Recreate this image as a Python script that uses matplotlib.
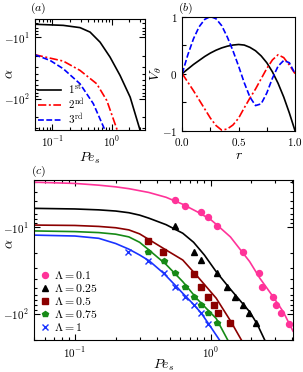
import numpy as np
import matplotlib
matplotlib.use("Agg")
import matplotlib.pyplot as plt
from matplotlib.ticker import LogLocator, FuncFormatter, NullFormatter, FixedLocator

plt.rcParams['mathtext.fontset'] = 'cm'
plt.rcParams['font.family'] = ['DejaVu Serif']

# ---------------- panel (a): growth rates of first three modes ----------------
pe_a1 = [0.05, 0.152, 0.292, 0.432, 0.638, 0.94, 1.39, 2.06, 3.04]
alpha_a1 = [-6.2, -6.46, -7.03, -8.3, -12.1, -21.1, -41.9, -94.2, -327]
pe_a2 = [0.05, 0.152, 0.292, 0.56, 0.83, 1.25]
alpha_a2 = [-19.3, -24.5, -34.7, -57.2, -107, -327]
pe_a3 = [0.05, 0.091, 0.152, 0.292, 0.49, 0.776]
alpha_a3 = [-19.3, -23.9, -32.6, -57.2, -120, -327]
labels_a = [r'$1^{\rm st}$', r'$2^{\rm nd}$', r'$3^{\rm rd}$']

# ---------------- panel (b): eigenfunctions V_theta(r) ----------------
r_b = [0.0, 0.05, 0.10, 0.15, 0.20, 0.25, 0.30, 0.35, 0.40, 0.45, 0.50,
       0.55, 0.60, 0.65, 0.70, 0.75, 0.80, 0.85, 0.90, 0.95, 1.0]
v_b1 = [0.0, 0.08, 0.16, 0.23, 0.30, 0.36, 0.41, 0.45, 0.48, 0.50, 0.51,
        0.50, 0.46, 0.40, 0.31, 0.19, 0.03, -0.17, -0.41, -0.69, -1.0]
v_b2 = [0.0, -0.15, -0.30, -0.46, -0.62, -0.78, -0.91, -0.99, -0.97, -0.90, -0.78,
        -0.60, -0.43, -0.27, -0.09, 0.09, 0.24, 0.33, 0.28, 0.15, 0.0]
v_b3 = [0.0, 0.33, 0.61, 0.82, 0.95, 1.00, 0.96, 0.84, 0.64, 0.40, 0.13,
        -0.16, -0.41, -0.56, -0.53, -0.34, -0.08, 0.13, 0.23, 0.19, 0.0]

# ---------------- panel (c): growth rate vs Pe_s for several Lambda ----------------
lambdas = ['0.1', '0.25', '0.5', '0.75', '1']

pe_c_line = {
    '0.1':  [0.05, 0.1, 0.15, 0.2, 0.25, 0.35, 0.47, 0.62, 0.8, 1.0, 1.1, 1.4, 1.94, 2.31, 2.89, 3.43, 4.05],
    '0.25': [0.05, 0.1, 0.15, 0.2, 0.25, 0.3, 0.35, 0.47, 0.624, 0.75, 0.9, 1.1, 1.4, 1.94, 2.2, 2.51],
    '0.5':  [0.05, 0.1, 0.15, 0.2, 0.25, 0.3, 0.353, 0.47, 0.624, 0.8, 1.1, 1.4, 1.69],
    '0.75': [0.05, 0.1, 0.15, 0.2, 0.25, 0.3, 0.353, 0.47, 0.624, 0.8, 1.1, 1.34],
    '1':    [0.05, 0.1, 0.15, 0.2, 0.25, 0.3, 0.353, 0.45, 0.55, 0.624, 0.75, 0.853, 0.96, 1.166],
}
alpha_c_line = {
    '0.1':  [-3.05, -3.15, -3.3, -3.45, -3.62, -4.0, -4.55, -5.45, -6.7, -8.2, -9.3, -13, -25, -39, -63.5, -94.6, -158],
    '0.25': [-6.1, -6.2, -6.35, -6.55, -6.85, -7.3, -7.9, -9.4, -11.8, -15, -21, -32.7, -52, -94.6, -130, -201],
    '0.5':  [-9.5, -9.6, -9.85, -10.2, -10.8, -12.0, -14.0, -18.4, -24, -37, -66, -120, -201],
    '0.75': [-11.1, -11.3, -11.6, -12.1, -13.0, -15.0, -18.5, -27, -42.6, -68, -113, -201],
    '1':    [-12.4, -12.7, -13.5, -15.5, -18.0, -21.0, -24.5, -34, -47, -58, -78, -98, -128, -201],
}
pe_c_pts = {
    '0.1':  [0.55, 0.653, 0.853, 0.96, 1.11, 1.72, 2.27, 2.41, 2.89, 3.03, 3.3, 3.8],
    '0.25': [0.55, 0.752, 0.853, 1.11, 1.32, 1.52, 1.72, 1.91, 2.15],
    '0.5':  [0.347, 0.449, 0.752, 0.853, 0.96, 1.065, 1.14, 1.38],
    '0.75': [0.347, 0.451, 0.55, 0.653, 0.752, 0.853, 0.96, 1.11],
    '1':    [0.248, 0.347, 0.451, 0.55, 0.653, 0.752, 0.853, 0.96],
}
alpha_c_pts = {
    '0.1':  [-4.9, -5.8, -6.8, -7.7, -9.7, -19.6, -34.2, -49.2, -64, -79.4, -98.9, -131],
    '0.25': [-9.7, -19.6, -24, -34.2, -49.2, -63.5, -79.4, -98.9, -129],
    '0.5':  [-14.5, -19.2, -34.8, -49.5, -64.5, -79.4, -98.9, -129],
    '0.75': [-19.6, -24.4, -34.2, -49.5, -64.5, -79.4, -98.9, -129],
    '1':    [-19.6, -24.7, -34.2, -49.5, -64.5, -79.4, -98.9, -131],
}
colors_c = {'0.1': '#ff3399', '0.25': 'black', '0.5': '#8b0000', '0.75': '#168a16', '1': '#1a33ff'}
markers_c = {'0.1': 'o', '0.25': '^', '0.5': 's', '0.75': 'p', '1': 'x'}

# ---------------------------------------------------------------------------
fig = plt.figure(figsize=(3.03, 3.72), dpi=100)
W, H = 303.0, 372.0

def box(l, t, r, b):
    return [l / W, 1 - b / H, (r - l) / W, (b - t) / H]

ax_a = fig.add_axes(box(34.7, 18.5, 144.5, 129.5))
ax_b = fig.add_axes(box(182.2, 16.5, 295.0, 130.7))
ax_c = fig.add_axes(box(34.0, 180.3, 293.0, 340.0))

neg_fmt = FuncFormatter(lambda v, p: r'$-10^{%d}$' % int(round(np.log10(v))))
pos_fmt = FuncFormatter(lambda v, p: r'$10^{%d}$' % int(round(np.log10(v))))

def style_log(ax):
    ax.set_xscale('log')
    ax.set_yscale('log')
    ax.xaxis.set_major_locator(LogLocator(base=10))
    ax.xaxis.set_minor_locator(LogLocator(base=10, subs=np.arange(2, 10)))
    ax.yaxis.set_major_locator(LogLocator(base=10))
    ax.yaxis.set_minor_locator(LogLocator(base=10, subs=np.arange(2, 10)))
    ax.xaxis.set_major_formatter(pos_fmt)
    ax.yaxis.set_major_formatter(neg_fmt)
    ax.xaxis.set_minor_formatter(NullFormatter())
    ax.yaxis.set_minor_formatter(NullFormatter())
    ax.tick_params(which='both', direction='in', top=True, right=True, labelsize=8, width=0.8)
    ax.tick_params(which='major', length=4)
    ax.tick_params(which='minor', length=2)
    for s in ax.spines.values():
        s.set_linewidth(0.8)

def fig_text(x, y, s, **kw):
    fig.text(x / W, 1 - y / H, s, **kw)

# ---- (a)
ax_a.plot(pe_a1, -np.array(alpha_a1), color='black', lw=1.2, ls='-', label=labels_a[0])
ax_a.plot(pe_a2, -np.array(alpha_a2), color='red', lw=1.2, ls=(0, (5, 1.5, 1.2, 1.5)), label=labels_a[1])
ax_a.plot(pe_a3, -np.array(alpha_a3), color='blue', lw=1.2, ls=(0, (3.5, 1.5)), label=labels_a[2])
style_log(ax_a)
ax_a.set_xlim(0.05, 3.6)
ax_a.set_ylim(315, 5.0)
ax_a.set_xlabel(r'$Pe_s$', fontsize=10, labelpad=1)
ax_a.set_ylabel(r'$\alpha$', fontsize=10)
ax_a.yaxis.set_label_coords((16 - 34.7) / 109.8, 0.5)
ax_a.legend(loc='lower left', fontsize=8, frameon=False, handlelength=2.1,
            handletextpad=0.6, labelspacing=0.0, borderaxespad=0.2, borderpad=0.1)
fig_text(30, 8, r'$(a)$', fontsize=8.5, ha='left', va='center')

# ---- (b)
ax_b.plot(r_b, v_b1, color='black', lw=1.2, ls='-')
ax_b.plot(r_b, v_b2, color='red', lw=1.2, ls=(0, (5, 1.5, 1.2, 1.5)))
ax_b.plot(r_b, v_b3, color='blue', lw=1.2, ls=(0, (3.5, 1.5)))
ax_b.set_xlim(0, 1)
ax_b.set_ylim(-1, 1)
ax_b.xaxis.set_major_locator(FixedLocator([0, 0.25, 0.5, 0.75, 1.0]))
ax_b.yaxis.set_major_locator(FixedLocator([-1, -0.5, 0, 0.5, 1]))
ax_b.xaxis.set_major_formatter(FuncFormatter(lambda v, p: {0: '$0.0$', 0.5: '$0.5$', 1.0: '$1.0$'}.get(v, '')))
ax_b.yaxis.set_major_formatter(FuncFormatter(lambda v, p: {-1: '$-1$', 0: '$0$', 1: '$1$'}.get(v, '')))
ax_b.tick_params(direction='in', length=3, labelsize=8, width=0.8)
for s in ax_b.spines.values():
    s.set_linewidth(0.8)
ax_b.set_xlabel(r'$r$', fontsize=10, labelpad=0)
ax_b.set_ylabel(r'$V_\theta$', fontsize=10)
ax_b.yaxis.set_label_coords((164 - 182.2) / 112.8, 0.5)
fig_text(178, 8, r'$(b)$', fontsize=8.5, ha='left', va='center')

# ---- (c)
for lam in lambdas:
    c = colors_c[lam]
    ax_c.plot(pe_c_line[lam], -np.array(alpha_c_line[lam]), color=c, lw=1.2)
    if markers_c[lam] == 'x':
        ax_c.plot(pe_c_pts[lam], -np.array(alpha_c_pts[lam]), ls='none', marker='x',
                  color=c, ms=4.0, mew=1.0, label=r'$\Lambda = %s$' % lam)
    else:
        ax_c.plot(pe_c_pts[lam], -np.array(alpha_c_pts[lam]), ls='none', marker=markers_c[lam],
                  color=c, ms=4.3, mec=c, label=r'$\Lambda = %s$' % lam)
style_log(ax_c)
ax_c.set_xlim(0.05, 4.05)
ax_c.set_ylim(200, 2.9)
ax_c.set_xlabel(r'$Pe_s$', fontsize=10, labelpad=-1)
ax_c.set_ylabel(r'$\alpha$', fontsize=10)
ax_c.yaxis.set_label_coords((16 - 34.0) / 259.0, 0.6)
ax_c.legend(loc='lower left', fontsize=8.5, frameon=False, handlelength=0.8,
            handletextpad=0.4, labelspacing=0.0, borderaxespad=0.3, borderpad=0.2)
fig_text(31, 171, r'$(c)$', fontsize=8.5, ha='left', va='center')

fig.savefig('out.png', dpi=100)
